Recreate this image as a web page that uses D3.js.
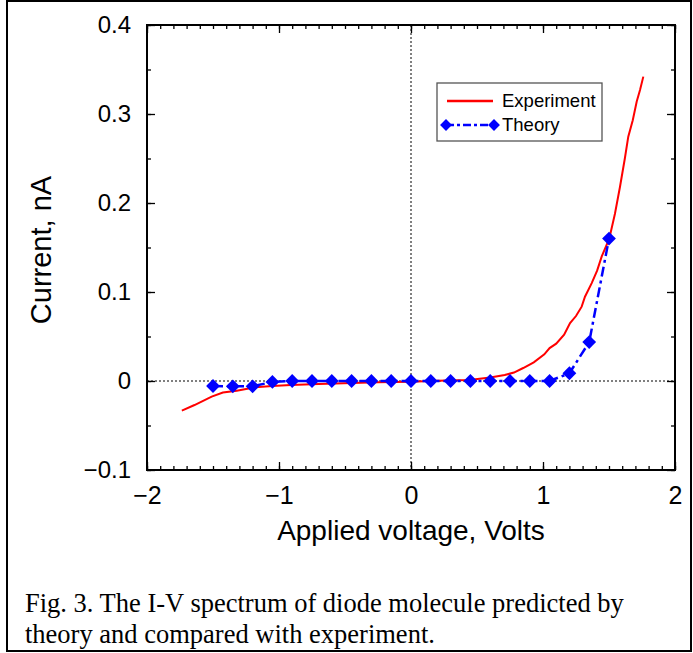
<!DOCTYPE html>
<html><head><meta charset="utf-8">
<script src="https://cdn.jsdelivr.net/npm/d3@7"></script>
<style>html,body{margin:0;padding:0;background:#fff;}svg{display:block;}</style>
</head><body>
<script>
// ---- data ----
const theoryV = [-1.5,-1.35,-1.2,-1.05,-0.9,-0.75,-0.6,-0.45,-0.3,-0.15,0,0.15,0.3,0.45,0.6,0.75,0.9,1.05,1.2,1.35,1.5];
const theoryI = [-0.0056,-0.006,-0.006,-0.001,0,0,0,0,0,0,0,0,0,0,0,0,0,0,0.0087,0.0437,0.160];
const expV = [-1.736,-1.64,-1.51,-1.425,-1.32,-1.18,-1.05,-0.91,-0.7,-0.51,-0.25,0,0.2,0.44,0.6,0.71,0.78,0.85,0.93,1.01,1.05,1.10,1.16,1.205,1.25,1.293,1.318,1.369,1.41,1.445,1.502,1.545,1.583,1.62,1.646,1.68,1.71,1.735,1.76];
const expI = [-0.0333,-0.027,-0.0176,-0.013,-0.011,-0.007,-0.0055,-0.0045,-0.0035,-0.0026,-0.0015,-0.0008,0.0002,0.001,0.004,0.0067,0.0095,0.0146,0.021,0.030,0.037,0.042,0.052,0.065,0.073,0.0835,0.0947,0.11,0.124,0.14,0.160,0.188,0.218,0.250,0.2745,0.293,0.314,0.327,0.342];
const xTicks = [-2,-1,0,1,2];
const yTicks = [-0.1,0,0.1,0.2,0.3,0.4];
const xLabel = "Applied voltage, Volts";
const yLabel = "Current, nA";
const legendNames = ["Experiment","Theory"];
const caption = ["Fig. 3. The I-V spectrum of diode molecule predicted by","theory and compared with experiment."];

// ---- layout ----
const W = 693, H = 653;
const L = 147, R = 675, T = 25, B = 470;
const svg = d3.select("body").append("svg").attr("width", W).attr("height", H);
const x = d3.scaleLinear().domain([-2,2]).range([L,R]);
const y = d3.scaleLinear().domain([-0.1,0.4]).range([B,T]);
const fmt = v => (v < 0 ? "\u2212" : "") + Math.abs(v).toString();
const SANS = "Liberation Sans, Arial, sans-serif";

// outer border
svg.append("rect").attr("x",7).attr("y",1).attr("width",684).attr("height",650)
  .attr("fill","none").attr("stroke","#000").attr("stroke-width",2);

// zero lines
svg.append("line").attr("x1",x(0)).attr("x2",x(0)).attr("y1",T).attr("y2",B)
  .attr("stroke","#000").attr("stroke-width",1).attr("stroke-dasharray","2,2");
svg.append("line").attr("x1",L).attr("x2",R).attr("y1",y(0)).attr("y2",y(0))
  .attr("stroke","#000").attr("stroke-width",1).attr("stroke-dasharray","2,2");

// axes (ticks inward)
const tickStyle = g => { g.select(".domain").remove(); g.selectAll("line").attr("stroke","#000").attr("stroke-width",1.3); };
const xMinor = d3.range(-2,2.0001,0.1).map(v=>+v.toFixed(2));
const yMinor = d3.range(-0.1,0.4001,0.05).map(v=>+v.toFixed(3));
svg.append("g").attr("transform",`translate(0,${B})`).call(d3.axisBottom(x).tickValues(xMinor).tickSize(-4).tickFormat("")).call(tickStyle);
svg.append("g").attr("transform",`translate(0,${T})`).call(d3.axisTop(x).tickValues(xMinor).tickSize(-4).tickFormat("")).call(tickStyle);
svg.append("g").attr("transform",`translate(0,${B})`).call(d3.axisBottom(x).tickValues(xTicks).tickSize(-8).tickPadding(16).tickFormat(fmt)).call(tickStyle)
  .selectAll("text").attr("font-family",SANS).attr("font-size",25).attr("fill","#000");
svg.append("g").attr("transform",`translate(0,${T})`).call(d3.axisTop(x).tickValues(xTicks).tickSize(-8).tickFormat("")).call(tickStyle);
svg.append("g").attr("transform",`translate(${L},0)`).call(d3.axisLeft(y).tickValues(yMinor).tickSize(-4).tickFormat("")).call(tickStyle);
svg.append("g").attr("transform",`translate(${R},0)`).call(d3.axisRight(y).tickValues(yMinor).tickSize(-4).tickFormat("")).call(tickStyle);
svg.append("g").attr("transform",`translate(${L},0)`).call(d3.axisLeft(y).tickValues(yTicks).tickSize(-8).tickPadding(16).tickFormat(fmt)).call(tickStyle)
  .selectAll("text").attr("font-family",SANS).attr("font-size",24).attr("fill","#000");
svg.append("g").attr("transform",`translate(${R},0)`).call(d3.axisRight(y).tickValues(yTicks).tickSize(-8).tickFormat("")).call(tickStyle);

// frame
svg.append("rect").attr("x",L).attr("y",T).attr("width",R-L).attr("height",B-T)
  .attr("fill","none").attr("stroke","#000").attr("stroke-width",2);

// experiment line
const expData = expV.map((v,i)=>[v,expI[i]]);
svg.append("path").datum(expData)
  .attr("d", d3.line().x(d=>x(d[0])).y(d=>y(d[1])))
  .attr("fill","none").attr("stroke","#ff0000").attr("stroke-width",2);

// theory line
const thData = theoryV.map((v,i)=>[v,theoryI[i]]);
svg.append("path").datum(thData)
  .attr("d", d3.line().x(d=>x(d[0])).y(d=>y(d[1])))
  .attr("fill","none").attr("stroke","#0000ff").attr("stroke-width",2.5).attr("stroke-dasharray","10,4,3,4");
svg.append("g").selectAll("path").data(thData).join("path")
  .attr("d", d3.symbol().type(d3.symbolSquare).size(95))
  .attr("transform",d=>`translate(${x(d[0])},${y(d[1])}) rotate(45)`)
  .attr("fill","#0000ff");

// legend
const lg = svg.append("g");
lg.append("rect").attr("x",437).attr("y",83).attr("width",165).attr("height",58)
  .attr("fill","#fff").attr("stroke","#555").attr("stroke-width",1.3);
lg.append("line").attr("x1",447).attr("x2",493).attr("y1",101).attr("y2",101).attr("stroke","#ff0000").attr("stroke-width",2.5);
lg.append("line").attr("x1",446).attr("x2",494).attr("y1",125).attr("y2",125).attr("stroke","#0000ff").attr("stroke-width",2.5).attr("stroke-dasharray","8,3,3,3");
[446,494].forEach(px=>lg.append("path").attr("d",d3.symbol().type(d3.symbolSquare).size(70)).attr("transform",`translate(${px},125) rotate(45)`).attr("fill","#0000ff"));
lg.selectAll("text").data(legendNames).join("text")
  .attr("x",502).attr("y",(d,i)=>101+24*i).attr("dy","0.35em")
  .attr("font-family",SANS).attr("font-size",18.5).attr("fill","#000").text(d=>d);

// axis titles
svg.append("text").attr("x",411).attr("y",540).attr("text-anchor","middle")
  .attr("font-family",SANS).attr("font-size",28).attr("fill","#000").text(xLabel);
svg.append("text").attr("transform","translate(51,250) rotate(-90)").attr("text-anchor","middle")
  .attr("font-family",SANS).attr("font-size",29).attr("fill","#000").text(yLabel);

// caption
svg.append("g").selectAll("text").data(caption).join("text")
  .attr("x",25).attr("y",(d,i)=>612+31*i)
  .attr("font-family","Liberation Serif, Times New Roman, serif").attr("font-size",26.5).attr("fill","#000").text(d=>d);
</script>
</body></html>
